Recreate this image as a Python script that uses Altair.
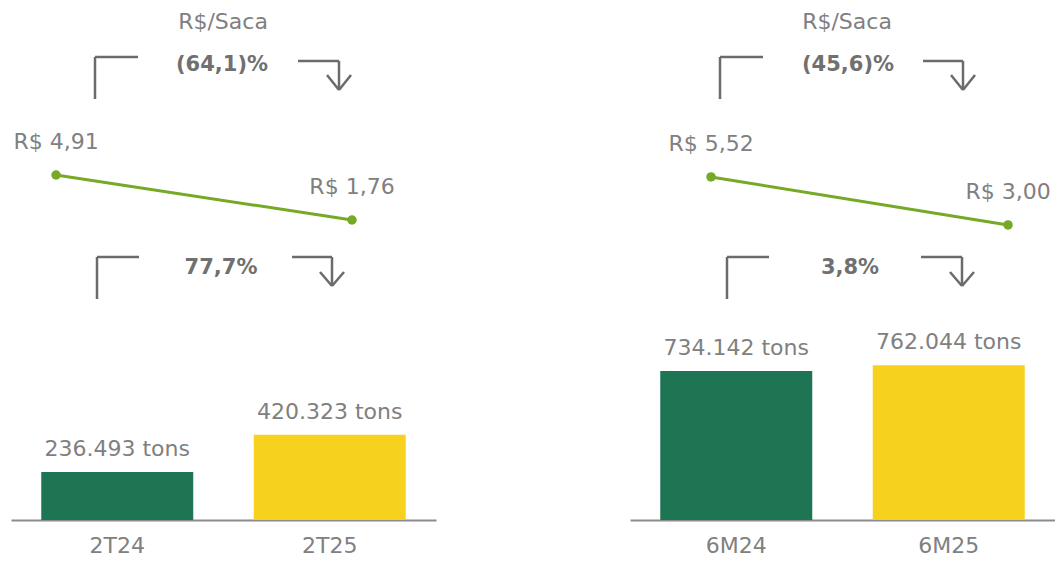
import altair as alt
import pandas as pd

# ---------------- data ----------------
periods_q = ["2T24", "2T25"]
tons_q = [236493, 420323]
price_q = [4.91, 1.76]
pct_price_q = "(64,1)%"
pct_vol_q = "77,7%"

periods_s = ["6M24", "6M25"]
tons_s = [734142, 762044]
price_s = [5.52, 3.00]
pct_price_s = "(45,6)%"
pct_vol_s = "3,8%"

series_names = ["anterior", "atual"]
unit_title = "R$/Saca"

# ---------------- style ----------------
FONT = "DejaVu Sans"
GRAY = "#808080"
BOLD_GRAY = "#707070"
DECO = "#6b6b6b"
GREEN = "#1d7554"
YELLOW = "#f6d21f"
LINE = "#76a926"
W, H = 425, 520


def fmt_tons(v):
    return f"{v:,}".replace(",", ".") + " tons"


def fmt_price(p):
    return "R$ " + f"{p:.2f}".replace(".", ",")


def seg(x1, y1, x2, y2):
    return alt.Chart(alt.Data(values=[{}])).mark_rule(
        color=DECO, strokeWidth=2.5
    ).encode(x=alt.value(x1), x2=alt.value(x2), y=alt.value(y1), y2=alt.value(y2))


def label(txt, x, y, size=22, weight="normal", color=GRAY):
    return alt.Chart(alt.Data(values=[{}])).mark_text(
        text=txt, font=FONT, fontSize=size, fontWeight=weight, color=color,
        align="center", baseline="middle"
    ).encode(x=alt.value(x), y=alt.value(y))


def bracket_set(b):
    layers = []
    vx, vy1, vy2, hx2 = b["corner"]
    layers.append(seg(vx, vy1, vx, vy2))
    layers.append(seg(vx, vy1, hx2, vy1))
    ax1, ay, ax2, tipy, armdx, armdy = b["arrow"]
    layers.append(seg(ax1, ay, ax2, ay))
    layers.append(seg(ax2, ay, ax2, tipy))
    layers.append(seg(ax2 - armdx, tipy - armdy, ax2, tipy))
    layers.append(seg(ax2 + armdx, tipy - armdy, ax2, tipy))
    return layers


def panel(periods, tons, prices, pct_price, pct_vol, geo):
    df = pd.DataFrame({
        "periodo": periods,
        "toneladas": tons,
        "preco": prices,
        "serie": series_names,
        "rotulo_ton": [fmt_tons(v) for v in tons],
        "rotulo_preco": [fmt_price(p) for p in prices],
    })
    base = alt.Chart(df)

    band = alt.Scale(type="band", paddingInner=0, paddingOuter=0)
    xb = alt.X("periodo:N", sort=periods, scale=band, title=None,
               axis=alt.Axis(labelAngle=0, ticks=False, grid=False,
                             domainColor="#8c8c8c", domainWidth=2,
                             labelFont=FONT, labelFontSize=22, labelColor=GRAY,
                             labelPadding=15))
    xb_na = alt.X("periodo:N", sort=periods, scale=band, axis=None)
    yb = alt.Y("toneladas:Q", scale=alt.Scale(domain=[0, 2562000], nice=False, zero=True),
               axis=None)

    bars = base.mark_bar(size=152).encode(
        x=xb, y=yb,
        color=alt.Color("serie:N", scale=alt.Scale(domain=series_names, range=[GREEN, YELLOW]),
                        legend=None),
    )
    bar_lbl = base.mark_text(font=FONT, fontSize=22, color=GRAY, baseline="middle", dy=-23).encode(
        x=xb_na, y=yb, text="rotulo_ton:N"
    )

    xl = alt.X("periodo:N", sort=periods,
               scale=alt.Scale(type="point", padding=geo["pad"], align=geo["align"]), axis=None)
    yl = alt.Y("preco:Q", scale=alt.Scale(domain=geo["ydom"], nice=False, zero=False), axis=None)

    line = base.mark_line(color=LINE, strokeWidth=3).encode(x=xl, y=yl)
    pts = base.mark_circle(color=LINE, size=90, opacity=1).encode(x=xl, y=yl)
    p_lbl = base.mark_text(font=FONT, fontSize=22, color=GRAY, baseline="middle", dy=-33).encode(
        x=xl, y=yl, text="rotulo_preco:N"
    )

    layers = [bars, bar_lbl, line, pts, p_lbl]
    layers.append(label(unit_title, geo["title_x"], 22))
    layers.append(label(pct_price, geo["pct1_x"], 65, size=21, weight="bold", color=BOLD_GRAY))
    layers.append(label(pct_vol, geo["pct2_x"], 268, size=21, weight="bold", color=BOLD_GRAY))
    layers += bracket_set(geo["top"])
    layers += bracket_set(geo["bottom"])

    return alt.layer(*layers).resolve_scale(x="independent", y="independent").properties(
        width=W, height=H
    )


geo_q = {
    "pad": 0.218, "align": 0.349, "ydom": [-19.24, 17.16],
    "title_x": 212, "pct1_x": 211, "pct2_x": 210,
    "top": {"corner": (84, 57, 99, 127), "arrow": (287, 61, 328, 90, 12, 15)},
    "bottom": {"corner": (86, 257, 299, 128), "arrow": (281, 257, 321, 286, 12, 14)},
}
geo_s = {
    "pad": 0.2155, "align": 0.633, "ydom": [-12.49, 14.81],
    "title_x": 217, "pct1_x": 218, "pct2_x": 220,
    "top": {"corner": (90, 57, 99, 133), "arrow": (293, 61, 333, 90, 12, 15)},
    "bottom": {"corner": (97, 257, 299, 139), "arrow": (291, 257, 332, 286, 12, 14)},
}

left = panel(periods_q, tons_q, price_q, pct_price_q, pct_vol_q, geo_q)
right = panel(periods_s, tons_s, price_s, pct_price_s, pct_vol_s, geo_s)

chart = alt.hconcat(left, right, spacing=194).properties(
    padding={"left": 11, "top": 0, "right": 0, "bottom": 0}
).configure(font=FONT, view=alt.ViewConfig(stroke=None))

chart.save("out.html", embed_options={"renderer": "svg", "actions": False})
